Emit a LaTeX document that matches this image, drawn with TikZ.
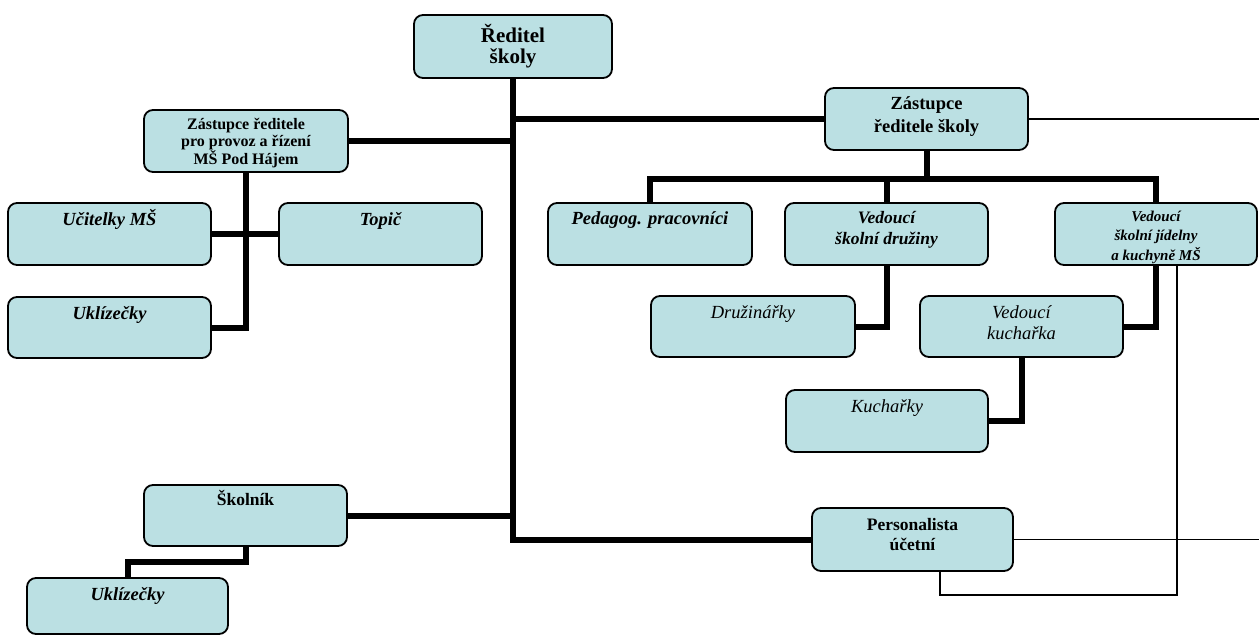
\documentclass[tikz,border=0pt]{standalone}
\usepackage{fontspec}
\setmainfont{Liberation Serif}
\usetikzlibrary{backgrounds}
\definecolor{boxfill}{RGB}{187,224,227}
\newcommand{\bxtext}[6]{\parbox[c][#2][t]{#1}{\centering\fontsize{#3}{#4}\selectfont\rule{0pt}{#5}#6}}
\tikzset{
  box/.style={draw=black, line width=1.8pt, rounded corners=9pt, fill=boxfill, inner sep=0pt, outer sep=0pt},
  conn/.style={line width=6pt, draw=black},
  thinline/.style={line width=1.5pt, draw=black}
}
\begin{document}
\begin{tikzpicture}[x=1pt,y=-1pt]
\useasboundingbox (0,0) rectangle (1259,635);
\coordinate (re) at (1259,0);
\coordinate (bar) at (927,179);

% boxes
\node[box] (red) at (513,46.5) {\bxtext{198pt}{63pt}{21}{21}{27pt}{\bfseries Ředitel\\ školy}};
\node[box] (zp) at (246,141) {\bxtext{204pt}{62pt}{16}{17}{19pt}{\bfseries Zástupce ředitele\\ pro provoz a řízení\\ MŠ Pod Hájem}};
\node[box] (uc) at (109.5,234) {\bxtext{203pt}{62pt}{18.5}{20}{22pt}{\bfseries\itshape Učitelky MŠ}};
\node[box] (top) at (380.5,234) {\bxtext{203pt}{62pt}{18.5}{20}{22pt}{\bfseries\itshape Topič}};
\node[box] (ukl1) at (109.5,327.5) {\bxtext{203pt}{61pt}{18.5}{20}{22pt}{\bfseries\itshape Uklízečky}};
\node[box] (zs) at (926.5,119) {\bxtext{203pt}{62pt}{18.5}{23}{21pt}{\bfseries Zástupce\\ ředitele školy}};
\node[box] (ped) at (650,234) {\bxtext{204pt}{62pt}{18.5}{21}{21pt}{\bfseries\itshape Pedagog. pracovníci}};
\node[box] (sd) at (886.5,234) {\bxtext{203pt}{62pt}{17.5}{21}{20pt}{\bfseries\itshape Vedoucí\\ školní družiny}};
\node[box] (sj) at (1156,234) {\bxtext{202pt}{62pt}{15}{19.5}{18pt}{\bfseries\itshape Vedoucí\\ školní jídelny\\ a kuchyně MŠ}};
\node[box] (dr) at (753,326.5) {\bxtext{204pt}{61pt}{18.5}{20}{22pt}{\itshape Družinářky}};
\node[box] (vk) at (1021.5,326.5) {\bxtext{203pt}{61pt}{18.5}{21}{22pt}{\itshape Vedoucí\\ kuchařka}};
\node[box] (ku) at (887,421) {\bxtext{202pt}{62pt}{18.5}{20}{22pt}{\itshape Kuchařky}};
\node[box] (sk) at (245.5,515.5) {\bxtext{203pt}{61pt}{17.5}{20}{20pt}{\bfseries Školník}};
\node[box] (ukl2) at (127.5,606) {\bxtext{201pt}{56pt}{18.5}{20}{22pt}{\bfseries\itshape Uklízečky}};
\node[box] (pe) at (912.5,539.5) {\bxtext{201pt}{63pt}{17.5}{20}{22pt}{\bfseries Personalista\\ účetní}};

% connectors (behind boxes)
\begin{pgfonlayer}{background}
\draw[conn] (red.south) |- (pe.west);
\draw[conn] (zp.east) -- (zp.east -| red.south);
\draw[conn] (zs.west) -- (zs.west -| red.south);
\draw[conn] (sk.east) -- (sk.east -| red.south);
\draw[conn] (zp.south) |- (ukl1.east);
\draw[conn] (uc.east) -- (top.west);
\draw[conn] (zs.south) -- (zs.south |- bar);
\draw[conn] (ped.north) |- (sj.north |- bar) -- (sj.north);
\draw[conn] (sd.north) -- (sd.north |- bar);
\draw[conn] (sd.south) |- (dr.east);
\draw[conn] (sj.south) |- (vk.east);
\draw[conn] (vk.south) |- (ku.east);
\draw[conn] (sk.south) -- ++(0,16) -| (ukl2.north);
\draw[thinline] (zs.east) -- (zs.east -| re);
\draw[thinline] (pe.east) -- (pe.east -| re);
\draw[thinline] ([xshift=21pt]sj.south) |- ([xshift=27.5pt,yshift=-24pt]pe.south) -- ([xshift=27.5pt]pe.south);
\end{pgfonlayer}
\end{tikzpicture}
\end{document}
